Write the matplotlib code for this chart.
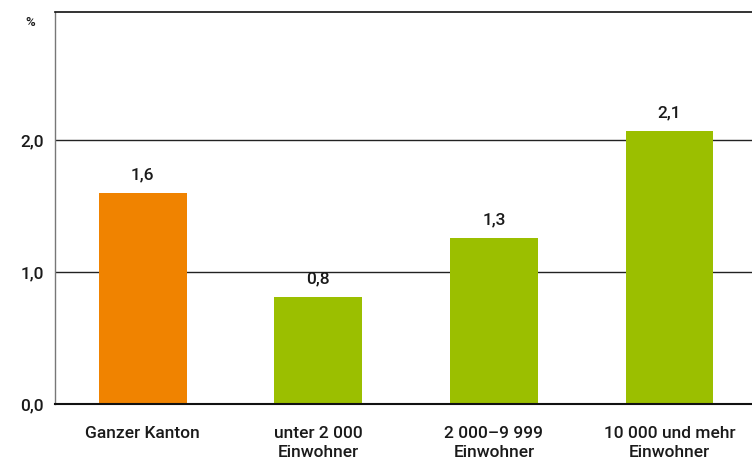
import numpy as np
from matplotlib import pyplot as plt

categories = ['Ganzer Kanton', 'unter 2 000\nEinwohner', '2 000–9 999\nEinwohner', '10 000 und mehr\nEinwohner']
values = [1.60, 0.81, 1.26, 2.07]
labels = ['1,6', '0,8', '1,3', '2,1']
colors = ['#f08300', '#9bbf00', '#9bbf00', '#9bbf00']
yticks = [0.0, 1.0, 2.0]
ytick_labels = ['0,0', '1,0', '2,0']

plt.rcParams['font.family'] = ['Roboto', 'DejaVu Sans']
plt.rcParams['font.weight'] = 'medium'

fig = plt.figure(figsize=(7.52, 4.61), dpi=100)
ax = fig.add_axes([0.0731, 0.1236, 0.9269, 0.8503])

x = np.arange(len(categories))
ax.bar(x, values, width=0.5, color=colors, zorder=2)
for xi, v, lab in zip(x, values, labels):
    ax.text(xi, v + 0.08, lab, ha='center', va='bottom', fontsize=12.5, color='#1a1a1a')

ax.set_xlim(-0.5, 3.47)
ax.set_ylim(0, 2.97)
ax.set_yticks(yticks)
ax.set_yticklabels(ytick_labels, fontsize=12.5)
ax.set_xticks(x)
ax.set_xticklabels(categories, fontsize=12.5, linespacing=1.35)
ax.tick_params(axis='both', length=0, pad=8, colors='#1a1a1a')
ax.tick_params(axis='x', pad=16)

for y in [1.0, 2.0]:
    ax.axhline(y, color='#222222', linewidth=1.0, zorder=1)
ax.spines['top'].set_color('#111111')
ax.spines['top'].set_linewidth(1.2)

ax.spines['right'].set_visible(False)
ax.spines['left'].set_color('#777777')
ax.spines['left'].set_linewidth(1.0)
ax.spines['bottom'].set_color('#111111')
ax.spines['bottom'].set_linewidth(1.5)

fig.text(30 / 752, 1 - 22 / 461, '%', ha='center', va='center', fontsize=9.5, color='#1a1a1a')

fig.savefig('out.png', dpi=100)
